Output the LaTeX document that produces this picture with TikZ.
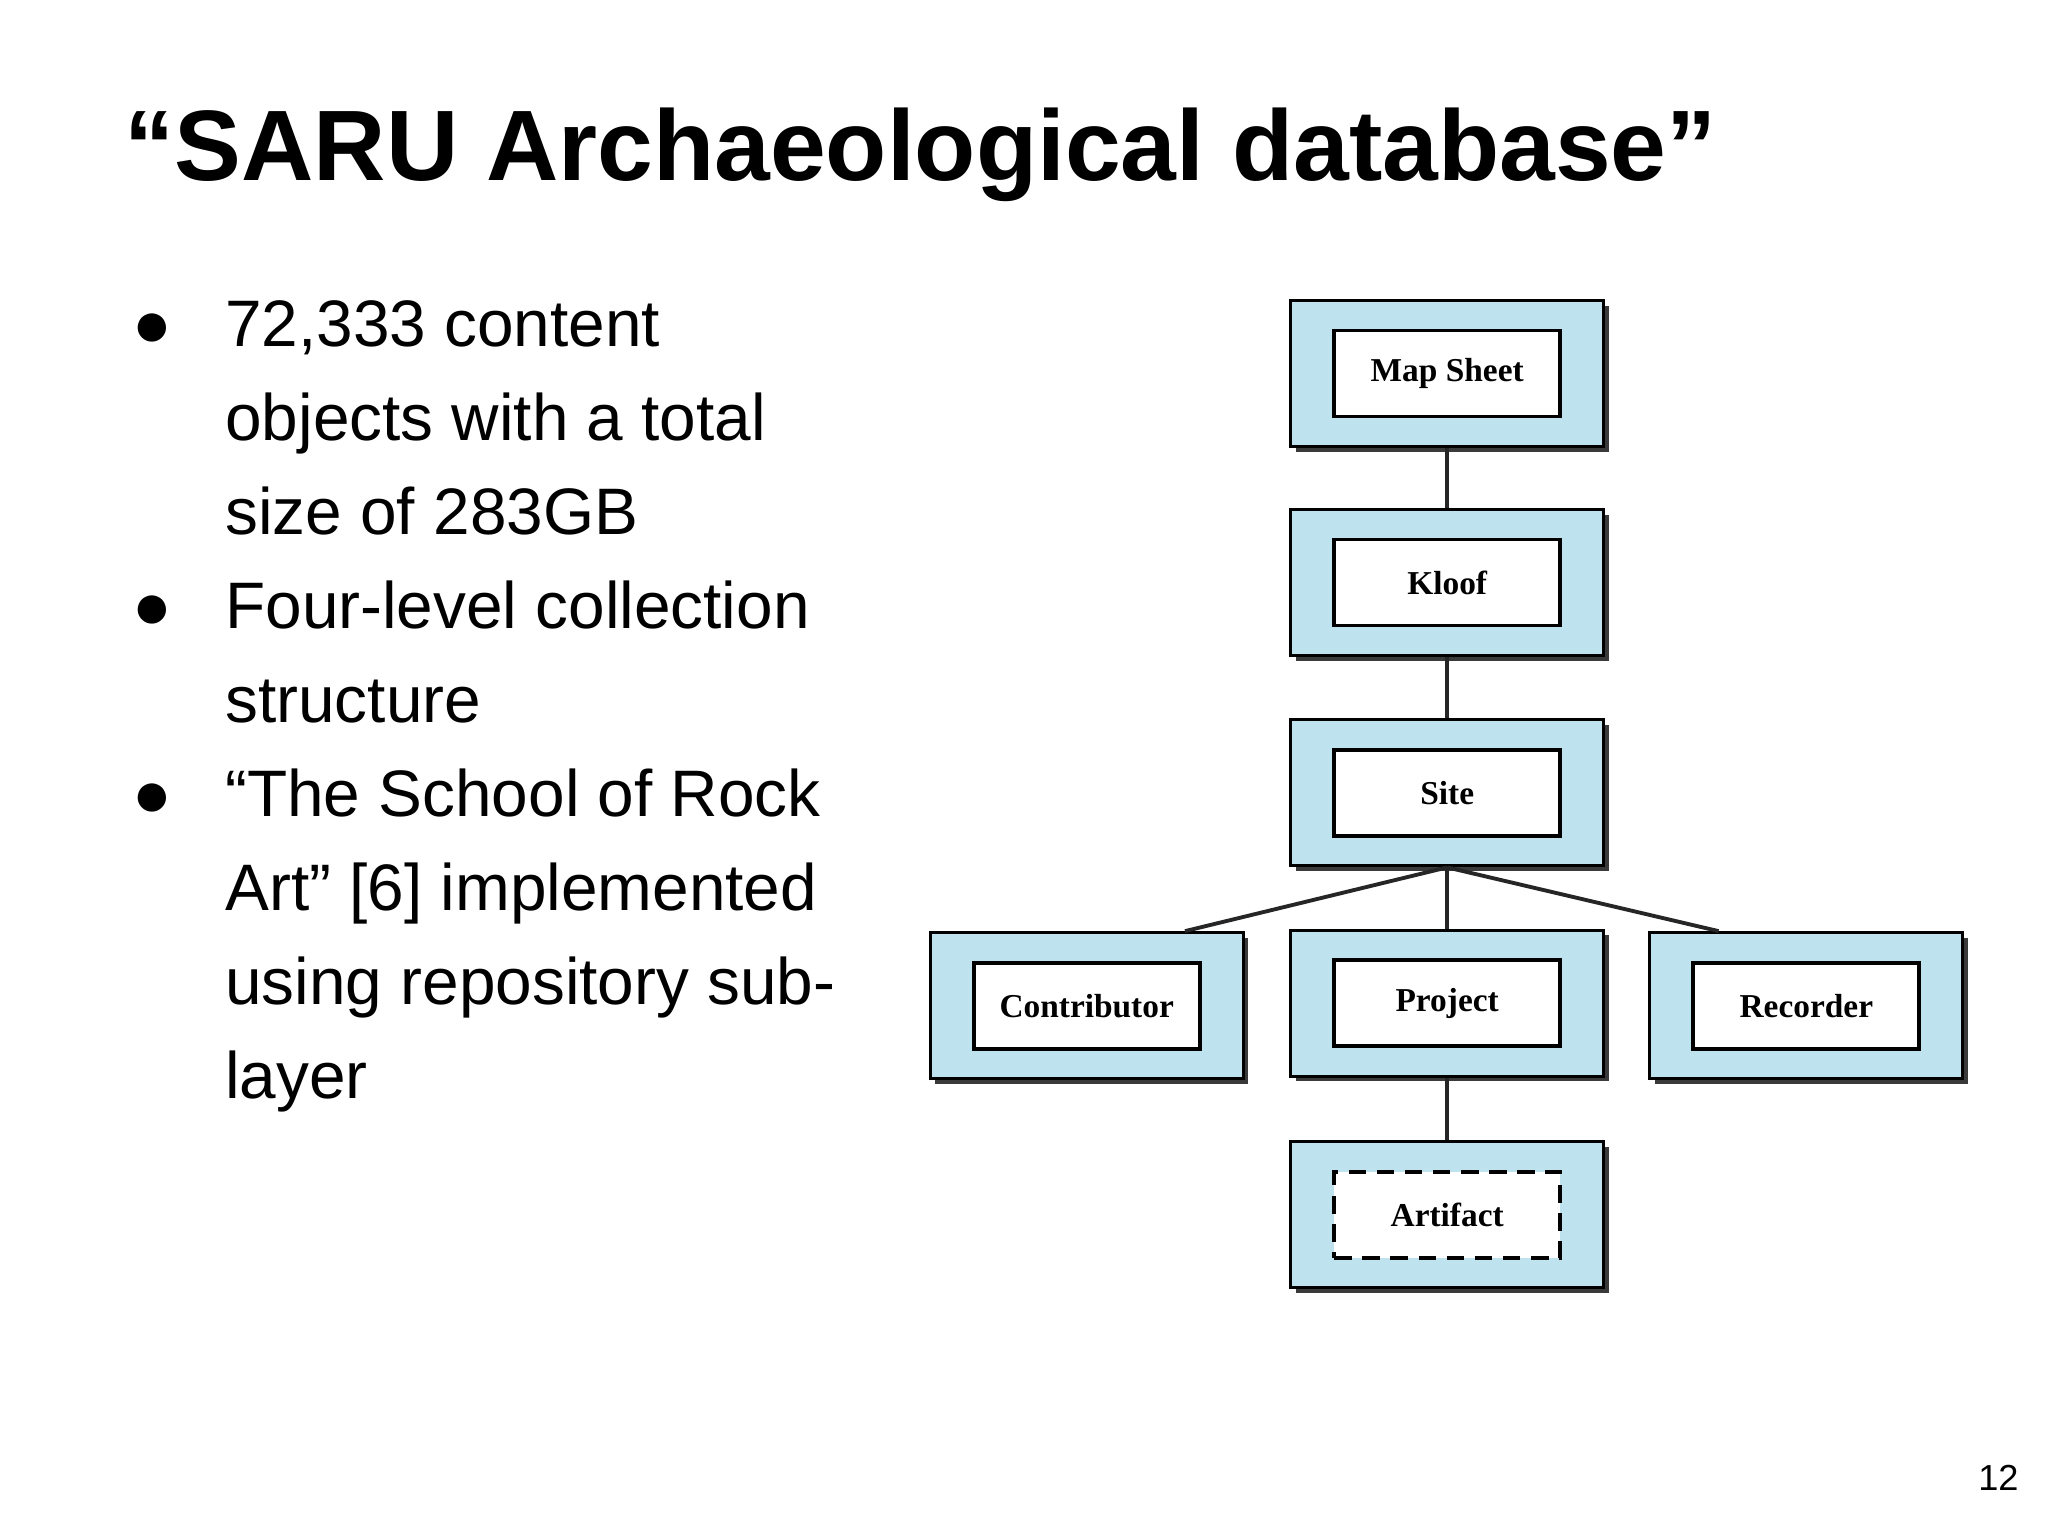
\documentclass[tikz,border=0pt]{standalone}
\usepackage{fontspec}
\setmainfont{Liberation Sans}
\newfontfamily\boxfont{Liberation Serif}
\usetikzlibrary{shadows}
\definecolor{boxblue}{HTML}{BEE3EE}
\definecolor{shade}{HTML}{3A3A3A}
\tikzset{
  outer/.style={draw=black, line width=0.9pt, fill=boxblue, minimum width=3.13cm, minimum height=1.46cm,
    drop shadow={shadow xshift=0.05cm, shadow yshift=-0.05cm, fill=shade, opacity=1}},
  inner/.style={draw=black, line width=1.1pt, fill=white, minimum width=2.26cm, minimum height=0.86cm,
    font=\boxfont\bfseries\fontsize{9.5}{11}\selectfont},
  link/.style={line width=1.1pt, draw=black!85},
  txt/.style={anchor=base west, inner sep=0pt, font=\fontsize{18.7}{22}\selectfont},
  bul/.style={anchor=base, inner sep=0pt, font=\fontsize{18.7}{22}\selectfont}
}
\begin{document}
\begin{tikzpicture}[x=0.01306cm, y=-0.01306cm]
\useasboundingbox (0,0) rectangle (1568,1176);
\node[anchor=base west, inner sep=0pt, font=\bfseries\fontsize{28.5}{32}\selectfont] (title) at (95,138) {“SARU Archaeological database”};
% bullets
\node[bul] (b1) at (117,265) {●};
\node[bul] (b2) at (117,481) {●};
\node[bul] (b3) at (117,625) {●};
\node[txt] (l1) at (172,265) {72,333 content};
\node[txt] (l2) at (172,337) {objects with a total};
\node[txt] (l3) at (172,409) {size of 283GB};
\node[txt] (l4) at (172,481) {Four-level collection};
\node[txt] (l5) at (172,553) {structure};
\node[txt] (l6) at (172,625) {“The School of Rock};
\node[txt] (l7) at (172,697) {Art” [6] implemented};
\node[txt] (l8) at (172,769) {using repository sub-};
\node[txt] (l9) at (172,841) {layer};
% boxes
\node[outer] (map) at (1108,286) {};
\node[outer] (kloof) at (1108,446) {};
\node[outer] (site) at (1108,607) {};
\node[outer] (contrib) at (832,770) {};
\node[outer] (project) at (1108,768) {};
\node[outer] (recorder) at (1383,770) {};
\node[outer] (artifact) at (1108,930) {};
\node[inner] (mapi) at (map) {Map Sheet};
\node[inner] (kloofi) at (kloof) {Kloof};
\node[inner] (sitei) at (site) {Site};
\node[inner] (contribi) at (contrib) {Contributor};
\node[inner] (projecti) at (project) {Project};
\node[inner] (recorderi) at (recorder) {Recorder};
\node[inner, dashed, dash pattern=on 5pt off 3pt] (artifacti) at (artifact) {Artifact};
% links
\draw[link] (map.south) -- (kloof.north);
\draw[link] (kloof.south) -- (site.north);
\draw[link] (site.south) -- (project.north);
\draw[link] (site.south) -- ([xshift=-17]contrib.north east);
\draw[link] (site.south) -- ([xshift=20]recorder.north west);
\draw[link] (project.south) -- (artifact.north);
\node[anchor=base east, inner sep=0pt, font=\fontsize{10.3}{12}\selectfont] (page) at (1546,1141) {12};
\end{tikzpicture}
\end{document}
